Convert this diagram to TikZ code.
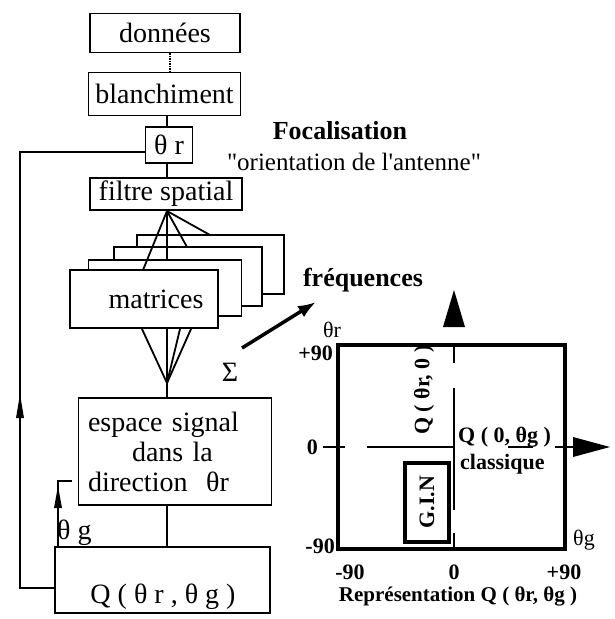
\documentclass[tikz,border=0pt]{standalone}
\usepackage{fontspec}
\setmainfont{Liberation Serif}
\newfontfamily\plainserif{Liberation Serif}
\usetikzlibrary{arrows.meta}
\begin{document}
\begin{tikzpicture}[x=1pt,y=-1pt,
  blk/.style={draw, line width=1.5pt, fill=white, inner sep=0pt, font=\fontsize{28}{30}\selectfont},
  conn/.style={line width=1.5pt},
  fan/.style={line width=1.8pt},
  lbl/.style={inner sep=0pt, font=\fontsize{22}{24}\selectfont\bfseries},
  tri/.style={fill=black, draw=none}]
\useasboundingbox (0,0) rectangle (615,619);

% left chain
\node[blk, minimum width=150pt, minimum height=39pt] (don) at (165,33) {données};
\node[blk, minimum width=152pt, minimum height=43pt] (bla) at (164.5,94) {blanchiment};
\node[blk, minimum width=47pt, minimum height=36pt] (thr) at (169,145) {θ r};
\node[blk, minimum width=152pt, minimum height=32pt] (fil) at (166,194) {filtre spatial};

% matrices stack
\node[blk, minimum width=147pt, minimum height=59pt] (m4) at (210.5,264.5) {};
\node[blk, minimum width=148pt, minimum height=59pt] (m3) at (188,276.5) {};
\node[blk, minimum width=153pt, minimum height=56pt] (m2) at (165,288) {};
\node[blk, minimum width=148pt, minimum height=58pt] (m1) at (144,299) {\hspace*{24pt}matrices};

\node[blk, minimum width=193pt, minimum height=107pt, text width=174pt, align=left] (esp) at (175,451.5)
  {espace signal\\ \hspace*{44pt}dans la\\ direction\ \ θr};
\node[blk, minimum width=215pt, minimum height=66pt] (qb) at (162.5,580) {};
\node[inner sep=0pt, font=\fontsize{28}{30}\selectfont] (qt) at (163,597) {Q ( θ r , θ g )};

% connectors top
\draw[conn, densely dotted] (don.south -| 170,0) -- (bla.north -| 170,0);
\draw[conn] (bla.south -| 167,0) -- (thr.north -| 167,0);
\draw[conn] (thr.south -| 167,0) -- (fil.north -| 167,0);

% fan from filter to matrices
\coordinate (ftop) at (167,211);
\coordinate (t1) at (143,270);
\coordinate (t2) at (167,260);
\coordinate (t3) at (187,247);
\coordinate (t4) at (210,235);
\draw[fan] (t1) -- (ftop) -- (t4);
\draw[fan] (ftop) -- (t2);
\draw[fan] (ftop) -- (t3);

% fan from matrices to apex
\coordinate (apex) at (167,383);
\coordinate (b1) at (142,329);
\coordinate (b2) at (167,329);
\coordinate (b3) at (180,329);
\coordinate (b4) at (191,329);
\draw[fan] (b1) -- (apex) -- (b4);
\draw[fan] (b2) -- (apex);
\draw[fan] (b3) -- (apex);
\draw[conn] (apex) -- (esp.north -| apex);

\draw[conn] (esp.south -| 167,0) -- (qb.north -| 167,0);

% feedback loops
\coordinate (fl1) at (20,588);
\coordinate (fl2) at (20,152);
\coordinate (fa) at (20,394);
\draw[conn] (qb.west |- fl1) -- (fl1) -- (fl2) -- (thr.west |- fl2);
\draw[tri] (fa) -- (16,418) -- (24,418) -- cycle;

\coordinate (g1) at (58,481);
\coordinate (g2) at (72,481);
\draw[conn] (qb.north -| g1) -- (g1) -- (g2);
\draw[tri] (58,486) -- (54,508) -- (62,508) -- cycle;
\node[anchor=west, inner sep=0pt, font=\fontsize{28}{30}\selectfont] (thg) at (57,533) {θ g};

% right texts
\node[inner sep=0pt, font=\fontsize{26}{29}\selectfont\bfseries] (foc) at (340,131) {Focalisation};
\node[inner sep=0pt, font=\plainserif\fontsize{25}{28}\selectfont] (ori) at (354,162) {"orientation de l'antenne"};
\node[inner sep=0pt, font=\fontsize{26}{29}\selectfont\bfseries] (fre) at (363,280) {fréquences};
\node[inner sep=0pt, font=\fontsize{28}{30}\selectfont] (sig) at (230,372) {Σ};
\coordinate (fa1) at (242,348);
\coordinate (fa2) at (316,302);
\draw[line width=3.5pt, -{Latex[length=18pt,width=13pt]}] (fa1) -- (fa2);

% chart
\draw[line width=4pt] (338,345) rectangle (565,549);
% vertical axis
\draw[line width=2pt] (454,345) -- (454,363);
\draw[line width=2pt] (454,388) -- (454,510);
\draw[line width=2pt] (454,533) -- (454,549);
\draw[tri] (454,290) -- (443,327) -- (465,327) -- cycle;
% horizontal axis
\draw[line width=2pt] (323,447) -- (345,447);
\draw[line width=2pt] (367,447) -- (455,447);
\draw[line width=2pt] (508,447) -- (533,447);
\draw[line width=2pt] (555,447) -- (573,447);
\draw[tri] (610,447) -- (573,437) -- (573,457) -- cycle;

% G.I.N
\draw[line width=4pt] (405,463) rectangle (449,542);
\node[lbl, rotate=90] (gin) at (427,502) {G.I.N};
\node[lbl, rotate=90] (qr0) at (424,390) {Q ( θr, 0 )};
\node[lbl, anchor=south west] (q0g) at (458,448) {Q ( 0, θg )};
\node[lbl, anchor=west] (cla) at (460,464) {classique};

% chart labels
\node[inner sep=0pt, font=\fontsize{22}{24}\selectfont] (thrl) at (332,330) {θr};
\node[lbl, anchor=east] (p90) at (333,353) {+90};
\node[lbl, anchor=east] (z0) at (318,447) {0};
\node[lbl, anchor=east] (m90) at (335,546) {-90};
\node[inner sep=0pt, font=\fontsize{22}{24}\selectfont] (thgl) at (584,540) {θg};
\node[lbl] (xm90) at (350,572) {-90};
\node[lbl] (x0) at (454,572) {0};
\node[lbl] (xp90) at (564,572) {+90};
\node[lbl, font=\fontsize{21}{24}\selectfont\bfseries] (rep) at (458,596) {Représentation Q ( θr, θg )};
\end{tikzpicture}
\end{document}
